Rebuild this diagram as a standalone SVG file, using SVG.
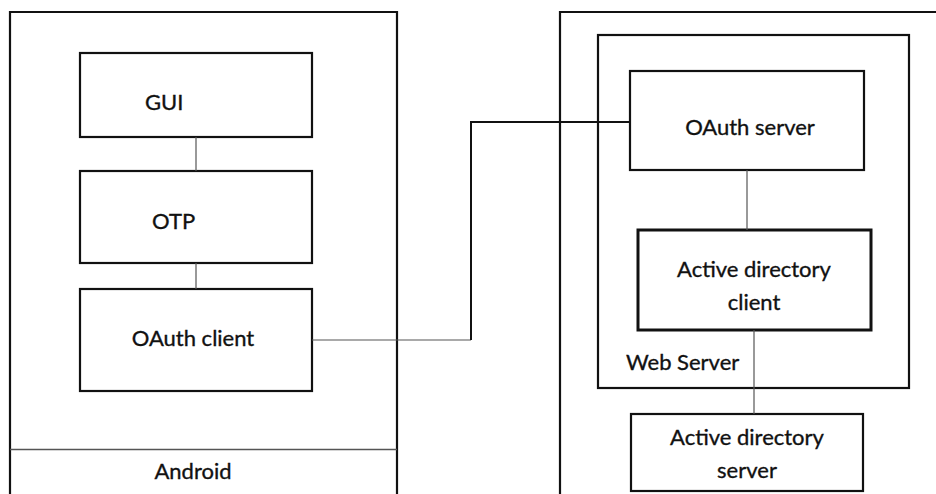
<svg xmlns="http://www.w3.org/2000/svg" width="936" height="494" viewBox="0 0 936 494">
<style>
.box{fill:none;stroke:#111;stroke-width:2.2}
.thick{stroke-width:3}
.lbl{font-family:Lato,"Liberation Sans",sans-serif;font-size:22px;fill:#111;stroke:#111;stroke-width:0.35}
.c{text-anchor:middle}
.conn{fill:none;stroke:#555;stroke-width:1.2}
.connb{fill:none;stroke:#111;stroke-width:2}
</style>
<rect width="936" height="494" fill="#fff"/>
<g id="android">
<path class="box" d="M10,500 V12 H397 V500"/>
<line x1="10" y1="449.5" x2="397" y2="449.5" stroke="#555" stroke-width="1.5"/>
<text class="lbl c" x="193" y="479">Android</text>
</g>
<g id="server-host">
<path class="box" d="M560,500 V12 H940"/>
</g>
<g id="webserver">
<rect class="box" x="598" y="35" width="311" height="353"/>
<text class="lbl" x="626" y="370">Web Server</text>
</g>
<g id="gui">
<rect class="box" x="80" y="53" width="232" height="84"/>
<text class="lbl" x="145" y="110">GUI</text>
</g>
<g id="otp">
<rect class="box" x="80" y="171" width="232" height="92"/>
<text class="lbl" x="152" y="229">OTP</text>
</g>
<g id="oauth-client">
<rect class="box" x="80" y="289" width="232" height="102"/>
<text class="lbl c" x="193" y="346">OAuth client</text>
</g>
<g id="oauth-server">
<rect class="box" x="630" y="71" width="234" height="99"/>
<text class="lbl c" x="750" y="135">OAuth server</text>
</g>
<g id="ad-client">
<rect class="box thick" x="638" y="230" width="233" height="100"/>
<text class="lbl c" x="754" y="277">Active directory</text>
<text class="lbl c" x="754" y="310">client</text>
</g>
<g id="ad-server">
<rect class="box" x="631" y="414" width="232" height="77"/>
<text class="lbl c" x="747" y="445">Active directory</text>
<text class="lbl c" x="747" y="478">server</text>
</g>
<g id="connectors">
<line class="conn" x1="196" y1="137" x2="196" y2="171"/>
<line class="conn" x1="196" y1="263" x2="196" y2="289"/>
<path class="conn" d="M312,340 H471"/>
<path class="connb" d="M471,340 V122 H630"/>
<line class="conn" x1="747" y1="170" x2="747" y2="230"/>
<line class="conn" x1="754" y1="330" x2="754" y2="414"/>
</g>
</svg>
